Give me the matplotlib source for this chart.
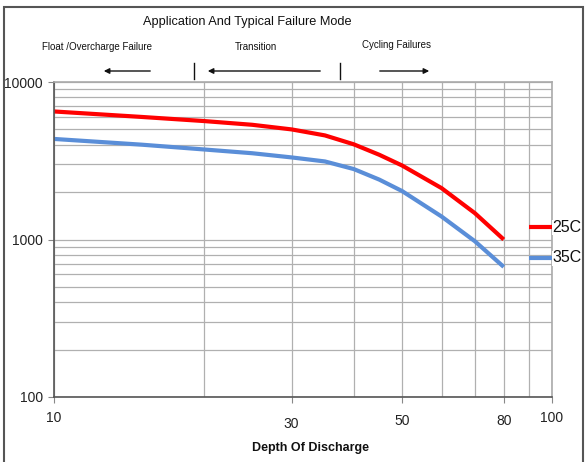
import matplotlib
matplotlib.use('Agg')
import matplotlib.pyplot as plt
from matplotlib.patches import Rectangle, FancyArrowPatch
from matplotlib.lines import Line2D
from matplotlib.ticker import NullFormatter
import matplotlib.transforms as mtransforms

# Cycle life vs depth of discharge
dod = [10, 15, 20, 25, 30, 35, 40, 45, 50, 60, 70, 80]
cycles_25c = [6500, 6000, 5650, 5350, 5000, 4580, 4020, 3450, 2950, 2120, 1470, 1000]
cycles_35c = [4350, 4000, 3730, 3530, 3320, 3130, 2800, 2400, 2030, 1400, 975, 670]

xticks = [10, 30, 50, 80, 100]
xminor = [20, 40, 60, 70, 90]
yticks = [100, 1000, 10000]
yminor = [200, 300, 400, 500, 600, 700, 800, 900,
          2000, 3000, 4000, 5000, 6000, 7000, 8000, 9000]

W, H = 585, 462
NARROW = ['Liberation Sans Narrow', 'Liberation Sans', 'DejaVu Sans']
plt.rcParams['font.family'] = ['Liberation Sans', 'DejaVu Sans']

fig = plt.figure(figsize=(W / 100, H / 100), dpi=100)


def fx(px):
    return px / W


def fy(py):
    return 1 - py / H


ax = fig.add_axes([fx(54), fy(397), (552 - 54) / W, (397 - 82) / H])
ax.set_xscale('log')
ax.set_yscale('log')
ax.set_xlim(10, 100)
ax.set_ylim(100, 10000)

ax.set_xticks(xticks)
ax.set_xticklabels([str(v) for v in xticks])
ax.set_xticks(xminor, minor=True)
ax.xaxis.set_minor_formatter(NullFormatter())
ax.set_yticks(yticks)
ax.set_yticklabels([str(v) for v in yticks])
ax.set_yticks(yminor, minor=True)
ax.yaxis.set_minor_formatter(NullFormatter())

ax.grid(True, which='both', color='#b0b0b0', linewidth=0.9)
ax.set_axisbelow(True)

ax.plot(dod, cycles_25c, color='#ff0000', linewidth=3, solid_capstyle='butt')
ax.plot(dod, cycles_35c, color='#5a8ed8', linewidth=3, solid_capstyle='butt')

ax.tick_params(axis='both', which='major', direction='out', length=4,
               color='#888888', labelsize=10, labelcolor='#222222', pad=4)
ax.tick_params(axis='both', which='minor', length=0)
ax.tick_params(axis='x', which='major', pad=6)

# little vertical jitter of the x labels like in the original
offsets = [0, -6, -3, -3, 0]
for lab, dy in zip(ax.get_xticklabels(), offsets):
    lab.set_transform(lab.get_transform() +
                      mtransforms.ScaledTranslation(0, dy / 100, fig.dpi_scale_trans))

for side in ['left', 'bottom']:
    ax.spines[side].set_color('#555555')
    ax.spines[side].set_linewidth(1.2)
for side in ['top', 'right']:
    ax.spines[side].set_color('#aaaaaa')
    ax.spines[side].set_linewidth(1.2)

fig.text(fx(311), fy(448), 'Depth Of Discharge', ha='center', va='center',
         fontsize=9, fontweight='bold', family=NARROW, color='#111111')

# header: failure modes
fig.text(fx(247), fy(22), 'Application And Typical Failure Mode', ha='center',
         va='center', fontsize=9.2, family=NARROW, color='#111111')
fig.text(fx(97), fy(47), 'Float /Overcharge Failure', ha='center', va='center',
         fontsize=7, family=NARROW, color='#111111')
fig.text(fx(256), fy(47), 'Transition', ha='center', va='center',
         fontsize=7, family=NARROW, color='#111111')
fig.text(fx(397), fy(45), 'Cycling Failures', ha='center', va='center',
         fontsize=7, family=NARROW, color='#111111')

arrow_kw = dict(arrowstyle='-|>', color='#111111', lw=1.0, mutation_scale=8)
for x0, x1 in [(153, 101), (323, 205), (377, 432)]:
    fig.add_artist(FancyArrowPatch((fx(x0), fy(71)), (fx(x1), fy(71)),
                                   transform=fig.transFigure, **arrow_kw))
for bx in [194, 340]:
    fig.add_artist(Line2D([fx(bx), fx(bx)], [fy(63), fy(79)],
                          transform=fig.transFigure, color='#111111', lw=1.0))

# frame around the picture
fig.add_artist(Rectangle((fx(4), fy(470)), fx(579), (470 - 7) / H,
                         transform=fig.transFigure, fill=False,
                         edgecolor='#555555', linewidth=1.5, zorder=1))

# legend at right edge
for py, col, lab in [(227, '#ff0000', '25C'), (258, '#5a8ed8', '35C')]:
    fig.add_artist(Line2D([fx(529), fx(552)], [fy(py), fy(py)],
                          transform=fig.transFigure, color=col, lw=3,
                          solid_capstyle='butt'))
    t = fig.text(fx(552), fy(py), lab, ha='left', va='center', fontsize=11.5,
                 color='#111111')
    t.set_bbox(dict(facecolor='white', edgecolor='none', pad=0))
    t.set_zorder(5)

fig.savefig('out.png', dpi=100)
